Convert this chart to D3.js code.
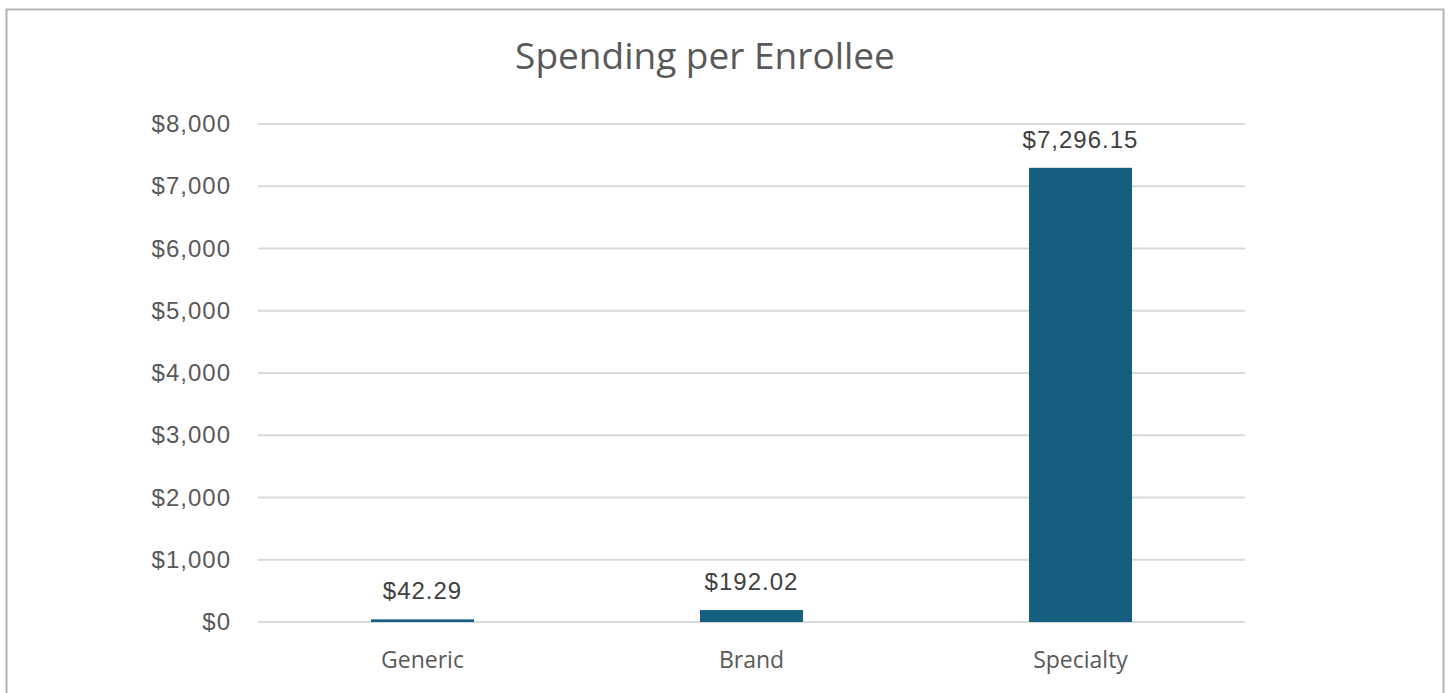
<!DOCTYPE html>
<html>
<head>
<meta charset="utf-8">
<script src="https://cdn.jsdelivr.net/npm/d3@7"></script>
<style>
  html, body { margin: 0; padding: 0; background: #fff; }
  svg { display: block; font-family: "Open Sans", "Noto Sans", sans-serif; }
</style>
</head>
<body>
<svg id="chart" width="1450" height="693"></svg>
<script>
// Per-enrollee spending by drug category
const categories = ["Generic", "Brand", "Specialty"];
const spending = [42.29, 192.02, 7296.15];
const yTicks = [0, 1000, 2000, 3000, 4000, 5000, 6000, 7000, 8000];
const chartTitle = "Spending per Enrollee";

const svg = d3.select("#chart");
const W = 1450, H = 693;
const margin = { left: 258, right: 205, top: 124, bottom: 71 };
const numFont = "'Liberation Sans', Arial, sans-serif";

// outer frame
svg.append("rect")
  .attr("x", 6.5).attr("y", 9.5)
  .attr("width", 1437).attr("height", 700)
  .attr("fill", "#fff")
  .attr("stroke", "#b4b4b8").attr("stroke-width", 2);

const x = d3.scaleBand()
  .domain(categories)
  .range([margin.left, W - margin.right])
  .paddingInner(0.687)
  .paddingOuter(0.3435);

const y = d3.scaleLinear()
  .domain([0, 8000])
  .range([H - margin.bottom, margin.top]);

// gridlines
svg.append("g")
  .selectAll("line")
  .data(yTicks)
  .join("line")
  .attr("x1", margin.left).attr("x2", W - margin.right)
  .attr("y1", d => y(d)).attr("y2", d => y(d))
  .attr("stroke", "#d9d9d9").attr("stroke-width", 2);

// y axis labels
const fmtAxis = d => "$" + d3.format(",")(d);
const yAxis = d3.axisLeft(y).tickValues(yTicks).tickFormat(fmtAxis).tickSize(0).tickPadding(27);
const gy = svg.append("g").attr("transform", `translate(${margin.left},0)`).call(yAxis);
gy.select(".domain").remove();
gy.selectAll("text")
  .attr("fill", "#595959")
  .style("font-size", "24px")
  .style("letter-spacing", "1px")
  .style("font-family", numFont);

// x axis labels
const xAxis = d3.axisBottom(x).tickSize(0).tickPadding(30);
const gx = svg.append("g").attr("transform", `translate(0,${y(0)})`).call(xAxis);
gx.select(".domain").remove();
gx.selectAll("text")
  .attr("fill", "#595959")
  .style("font-size", "23px")
  .style("font-family", "'Open Sans', 'Noto Sans', sans-serif");

const rows = categories.map((c, i) => ({ c, v: spending[i] }));

// bars
svg.append("g")
  .selectAll("rect")
  .data(rows)
  .join("rect")
  .attr("x", d => x(d.c))
  .attr("width", x.bandwidth())
  .attr("y", d => y(d.v))
  .attr("height", d => y(0) - y(d.v))
  .attr("fill", "#165e80");

// value labels
const fmtVal = d => "$" + d3.format(",.2f")(d);
svg.append("g")
  .selectAll("text")
  .data(rows)
  .join("text")
  .attr("x", d => x(d.c) + x.bandwidth() / 2)
  .attr("y", d => y(d.v) - 20)
  .attr("text-anchor", "middle")
  .attr("fill", "#404040")
  .style("font-size", "24px")
  .style("letter-spacing", "1px")
  .style("font-family", numFont)
  .text(d => fmtVal(d.v));

// title
svg.append("text")
  .attr("x", 705).attr("y", 69)
  .attr("text-anchor", "middle")
  .attr("fill", "#595959")
  .style("font-size", "37px")
  .text(chartTitle);
</script>
</body>
</html>
